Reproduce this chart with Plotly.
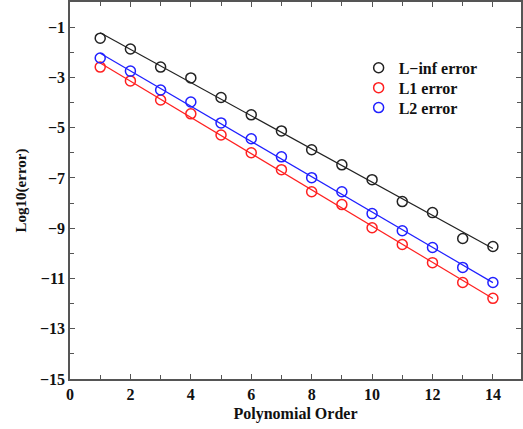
import numpy as np
import plotly.graph_objects as go

order = list(range(1, 15))
linf = [-1.44, -1.87, -2.59, -3.02, -3.80, -4.49, -5.13, -5.88, -6.48, -7.07, -7.94, -8.38, -9.41, -9.73]
l1 = [-2.59, -3.14, -3.90, -4.45, -5.29, -6.00, -6.67, -7.55, -8.06, -8.98, -9.65, -10.37, -11.16, -11.79]
l2 = [-2.23, -2.75, -3.50, -3.98, -4.81, -5.44, -6.16, -6.99, -7.55, -8.42, -9.10, -9.77, -10.56, -11.16]
xticks = [0, 2, 4, 6, 8, 10, 12, 14]
yticks = [-15, -13, -11, -9, -7, -5, -3, -1]

series = [("L\u2212inf error", linf, "#222222"), ("L1 error", l1, "#ff2020"), ("L2 error", l2, "#2020ff")]
legend_ids = ["legend", "legend2", "legend3"]
legend_y = [0.8254, 0.7725, 0.7196]

FONT = "Liberation Serif"
fig = go.Figure()
x = np.array(order, dtype=float)
for name, vals, col in series:
    c = np.polyfit(x, np.array(vals), 1)
    fit = np.polyval(c, x)
    fig.add_trace(go.Scatter(x=x, y=fit, mode="lines", line=dict(color=col, width=1.2),
                             showlegend=False, hoverinfo="skip"))
for (name, vals, col), lid in zip(series, legend_ids):
    fig.add_trace(go.Scatter(x=order, y=vals, mode="markers", name="<b>%s</b>" % name, legend=lid,
                             marker=dict(symbol="circle-open", size=10, color=col,
                                         line=dict(width=1.5, color=col))))

axis_common = dict(showgrid=False, zeroline=False, showline=True, linecolor="#555555", linewidth=1.5,
                   mirror="ticks", ticks="inside", ticklen=5, tickcolor="#555555", tickwidth=1,
                   tickfont=dict(family=FONT, size=16, color="#111111"),
                   minor=dict(ticks="inside", ticklen=4, tickcolor="#555555", tickwidth=1, dtick=1))
fig.update_xaxes(range=[0, 14.93], tickmode="array", tickvals=xticks,
                 ticktext=["<b>%d</b>" % v for v in xticks],
                 title=dict(text="<b>Polynomial Order</b>",
                            font=dict(family=FONT, size=16, color="#111111"), standoff=6), **axis_common)
fig.update_yaxes(range=[-15, 0], tickmode="array", tickvals=yticks,
                 ticktext=["<b>\u2212%d</b>" % abs(v) for v in yticks],
                 title=dict(text="<b>Log10(error)</b>", font=dict(family=FONT, size=15, color="#111111"), standoff=10),
                 **axis_common)

leg = dict(x=0.64, xanchor="left", yanchor="middle", bgcolor="rgba(0,0,0,0)",
           font=dict(family=FONT, size=16, color="#111111"), itemwidth=30)
fig.update_layout(width=523, height=429, margin=dict(l=70, r=0, t=1, b=50),
                  plot_bgcolor="white", paper_bgcolor="white",
                  legend=dict(y=legend_y[0], **leg),
                  legend2=dict(y=legend_y[1], **leg),
                  legend3=dict(y=legend_y[2], **leg))
fig.write_html("out.html")
